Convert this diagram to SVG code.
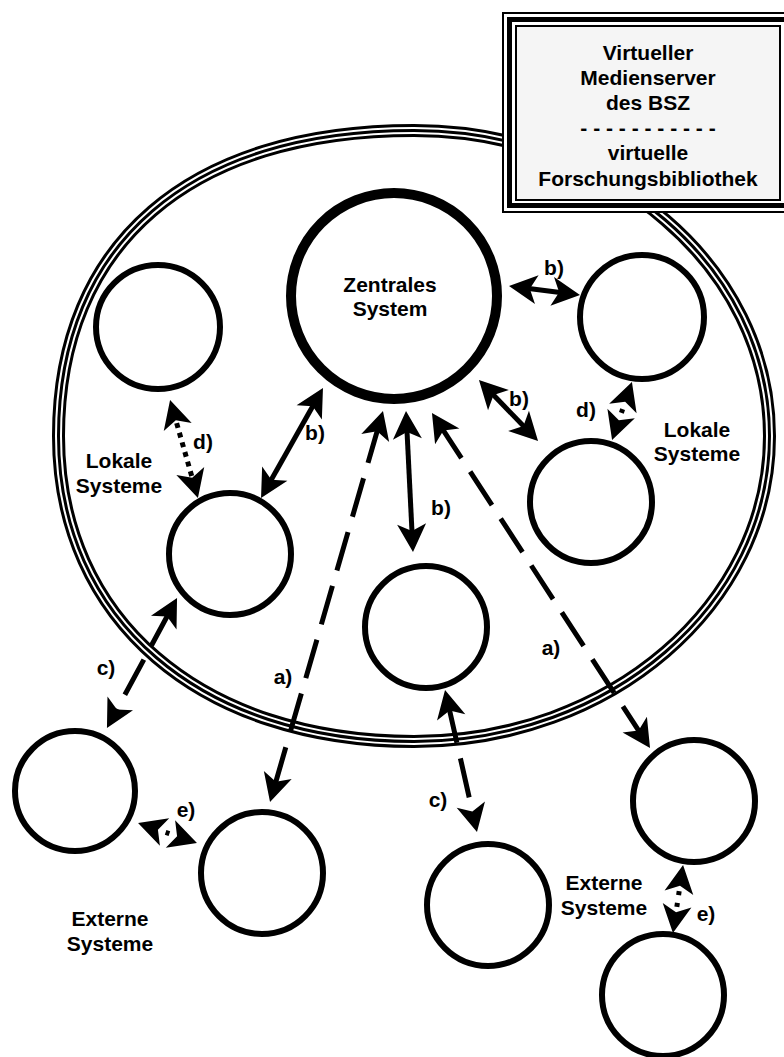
<svg xmlns="http://www.w3.org/2000/svg" width="784" height="1057" viewBox="0 0 784 1057">
<style>
.t{font-family:"Liberation Sans",Arial,sans-serif;font-weight:bold;font-size:21px;fill:#000;text-anchor:middle}
.n{fill:#fff;stroke:#000;stroke-width:6}
.c{fill:none;stroke:#000;stroke-width:5;marker-start:url(#ah);marker-end:url(#ah)}
.dash{stroke-dasharray:40 16}
.dot{stroke-dasharray:5 5}
.b{fill:none}
</style>
<defs>
<marker id="ah" markerUnits="userSpaceOnUse" orient="auto-start-reverse" viewBox="-31 -16 33 32" markerWidth="33" markerHeight="32" refX="-14" refY="0">
<path d="M0,0 L-28,-14.5 L-21,0 L-28,14.5 Z" fill="#000"/>
</marker>
<path id="ell" d="M414,130.5 C610.3,130.5 769.5,267.3 769.5,436 C769.5,604.7 610.3,741.5 414,741.5 C200.7,741.5 58.5,619.3 58.5,436 C58.5,243.5 190,130.5 414,130.5 Z"/>
</defs>
<rect width="784" height="1057" fill="#fff"/>
<g id="boundary">
<use href="#ell" class="b" stroke="#000" stroke-width="13"/>
<use href="#ell" class="b" stroke="#fff" stroke-width="7"/>
<use href="#ell" class="b" stroke="#000" stroke-width="3"/>
</g>
<g id="connectors">
<path class="c" d="M522.9,287.8 L566.1,293.2"/>
<path class="c" d="M488.7,390.1 L528.3,430.9"/>
<path class="c" d="M316.1,400.2 L267.9,485.8"/>
<path class="c" d="M406.7,425 L412.3,538"/>
<path class="c dash" d="M379.1,424.5 L273.9,788.5"/>
<path class="c dash" d="M439.6,424.7 L642.4,736.3"/>
<path class="c dash" d="M170.4,610.3 L113.6,715.7"/>
<path class="c dash" d="M448.1,703.7 L473.9,818.3"/>
<path class="c dot" d="M173.9,413.5 L194.1,484.5"/>
<path class="c" style="stroke-dasharray:4 30;stroke-dashoffset:19.3" d="M627.4,395.2 L616.6,426.8"/>
<path class="c" style="stroke-dasharray:4 30;stroke-dashoffset:18.9" d="M151.3,827.5 L183.7,838.5"/>
<path class="c" style="stroke-dasharray:4 8;stroke-dashoffset:11.7" d="M681,878.9 L675,919.1"/>
</g>
<g id="labels">
<text class="t" x="554" y="275">b)</text>
<text class="t" x="519" y="406">b)</text>
<text class="t" x="315" y="440">b)</text>
<text class="t" x="441" y="515">b)</text>
<text class="t" x="283" y="684">a)</text>
<text class="t" x="551" y="655">a)</text>
<text class="t" x="106" y="675">c)</text>
<text class="t" x="438" y="807">c)</text>
<text class="t" x="203" y="449">d)</text>
<text class="t" x="586" y="417">d)</text>
<text class="t" x="186" y="817">e)</text>
<text class="t" x="706" y="921">e)</text>
<text class="t" x="119" y="468">Lokale</text>
<text class="t" x="119" y="493">Systeme</text>
<text class="t" x="697" y="437">Lokale</text>
<text class="t" x="697" y="461">Systeme</text>
<text class="t" x="110" y="926">Externe</text>
<text class="t" x="110" y="951">Systeme</text>
<text class="t" x="604" y="890">Externe</text>
<text class="t" x="604" y="915">Systeme</text>
</g>
<g id="central">
<circle cx="394" cy="296" r="103" fill="#fff" stroke="#000" stroke-width="10"/>
<text class="t" x="390" y="292">Zentrales</text>
<text class="t" x="390" y="316">System</text>
</g>
<g id="local1"><circle class="n" cx="158" cy="327" r="62"/></g>
<g id="local2"><circle class="n" cx="642" cy="317" r="62"/></g>
<g id="local3"><circle class="n" cx="591" cy="502" r="61"/></g>
<g id="local4"><circle class="n" cx="230" cy="554" r="61"/></g>
<g id="local5"><circle class="n" cx="426" cy="627" r="61"/></g>
<g id="ext1"><circle class="n" cx="75" cy="791" r="60"/></g>
<g id="ext2"><circle class="n" cx="262" cy="873" r="61"/></g>
<g id="ext3"><circle class="n" cx="488" cy="905" r="61"/></g>
<g id="ext4"><circle class="n" cx="694" cy="801" r="61"/></g>
<g id="ext5"><circle class="n" cx="663" cy="995" r="61"/></g>
<g id="titlebox">
<rect x="502" y="12" width="300" height="201" fill="#fff" stroke="none"/>
<rect x="503" y="13" width="300" height="199" fill="none" stroke="#000" stroke-width="2"/>
<rect x="509.5" y="19.5" width="300" height="186" fill="none" stroke="#000" stroke-width="5"/>
<rect x="516" y="26" width="264" height="174" fill="#f5f5f5" stroke="#000" stroke-width="2"/>
<text class="t" x="648" y="60">Virtueller</text>
<text class="t" x="648" y="85">Medienserver</text>
<text class="t" x="648" y="110">des BSZ</text>
<text class="t" x="648" y="135">- - - - - - - - - - -</text>
<text class="t" x="648" y="160">virtuelle</text>
<text class="t" x="648" y="186">Forschungsbibliothek</text>
</g>
</svg>
